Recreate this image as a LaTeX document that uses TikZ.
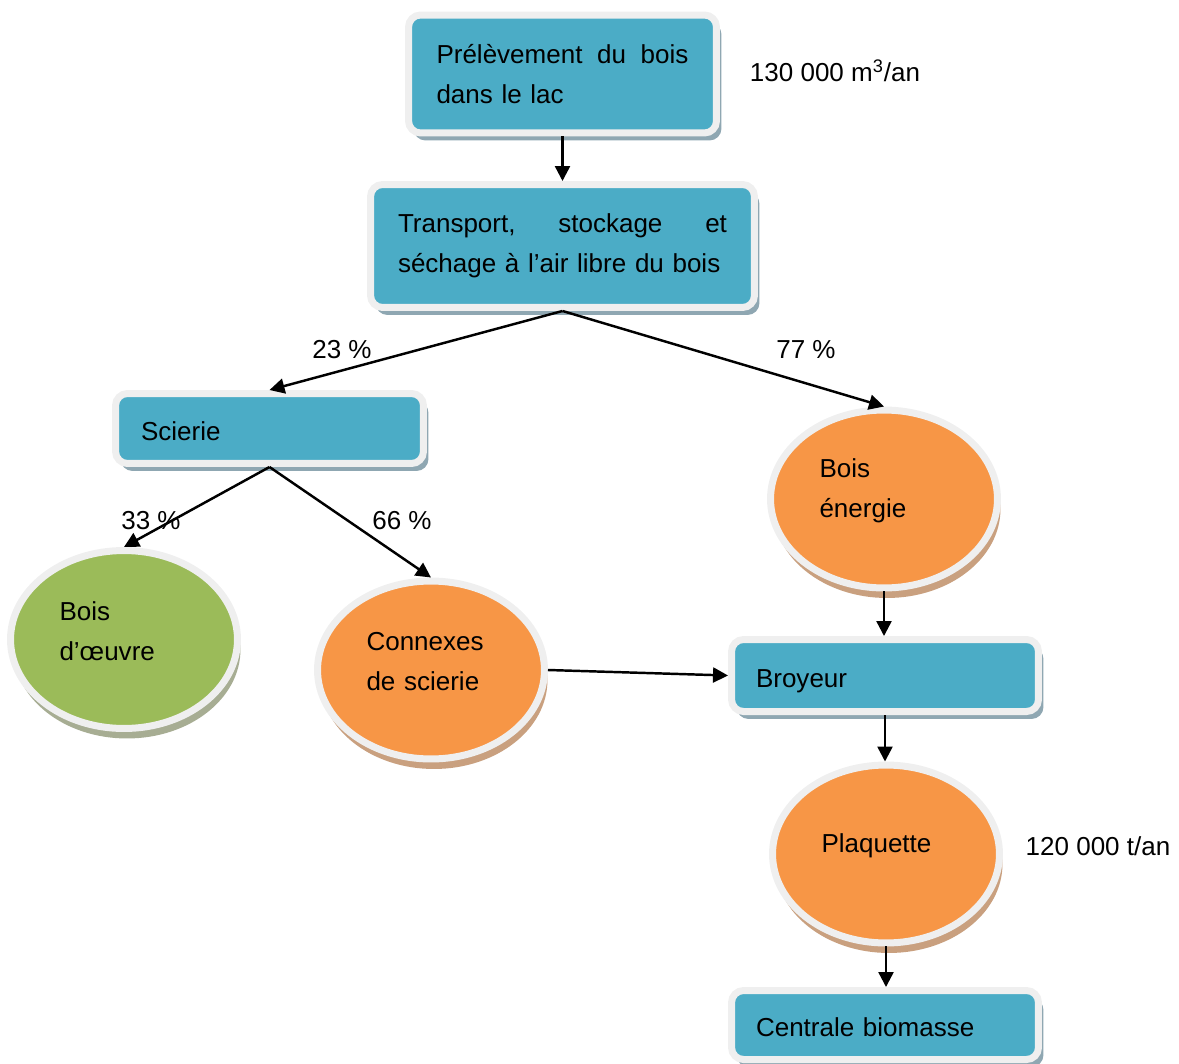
\documentclass[tikz,border=0pt]{standalone}
\usepackage{fontspec}
\setmainfont{Liberation Sans}
\usetikzlibrary{shapes.geometric,shadows,arrows.meta}
\definecolor{bleu}{HTML}{4BACC6}
\definecolor{orange}{HTML}{F79646}
\definecolor{vert}{HTML}{9BBB59}
\definecolor{cadre}{HTML}{EFEFEF}
\definecolor{ombrebleu}{HTML}{8FA7B2}
\definecolor{ombreorange}{HTML}{C9A07F}
\definecolor{ombrevert}{HTML}{A7AD93}

\begin{document}
\begin{tikzpicture}[x=0.02cm,y=-0.02cm,
  every node/.style={font=\fontsize{14.8}{22.8}\selectfont},
  boite/.style={rectangle,rounded corners=0.24cm,fill=bleu,draw=cadre,line width=0.14cm,
    inner sep=0pt,align=left,drop shadow={shadow xshift=0.1cm,shadow yshift=-0.15cm,fill=ombrebleu,opacity=1}},
  uneligne/.style={text height=0.57cm,text depth=0.11cm},
  bulle/.style={ellipse,draw=cadre,line width=0.14cm,inner sep=0pt,
    minimum width=4.54cm,minimum height=3.56cm},
  texte/.style={text width=2.58cm,align=left,yshift=0.16cm},
  fleche/.style={-{Triangle[length=0.3cm,width=0.3cm]},line width=1.4pt}]

\useasboundingbox (0,0) rectangle (1179,1064);

\node[boite,minimum width=6.16cm,minimum height=2.36cm,text width=5.04cm](prelev) at (562.5,74)
  {Prélèvement\hfill du\hfill bois\\dans le lac};
\node[boite,minimum width=7.68cm,minimum height=2.46cm,text width=6.58cm](transport) at (562.5,246)
  {Transport,\hfill stockage\hfill et\\séchage à l’air libre du bois};
\node[boite,uneligne,minimum width=6.16cm,minimum height=1.4cm,text width=5.14cm](scierie) at (269.5,428.5) {Scierie};
\node[boite,uneligne,minimum width=6.14cm,minimum height=1.44cm,text width=5.16cm](broyeur) at (885,675.5) {Broyeur};
\node[boite,uneligne,minimum width=6.14cm,minimum height=1.38cm,text width=5.16cm](centrale) at (885,1025) {Centrale biomasse};

\node[bulle,fill=orange,drop shadow={shadow xshift=0.06cm,shadow yshift=-0.2cm,fill=ombreorange,opacity=1},
  label={[texte]center:{Bois\\énergie}}](energie) at (884,499) {};
\node[bulle,fill=vert,drop shadow={shadow xshift=0.06cm,shadow yshift=-0.2cm,fill=ombrevert,opacity=1},
  label={[texte]center:{Bois\\d’œuvre}}](oeuvre) at (124,639.5) {};
\node[bulle,fill=orange,drop shadow={shadow xshift=0.06cm,shadow yshift=-0.2cm,fill=ombreorange,opacity=1},
  label={[texte]center:{Connexes\\de scierie}}](connexes) at (431,670) {};
\node[bulle,fill=orange,drop shadow={shadow xshift=0.06cm,shadow yshift=-0.2cm,fill=ombreorange,opacity=1},
  label={[texte]center:{Plaquette}}](plaquette) at (886,854) {};

\node(volume) at (835,71) {130 000 m\textsuperscript{3}/an};
\node(tonnage) at (1098,846) {120 000 t/an};
\node(p23) at (342,350) {23 \%};
\node(p77) at (806,350) {77 \%};
\node(p33) at (151,521) {33 \%};
\node(p66) at (402,521) {66 \%};

\draw[fleche](prelev.south)--(transport.north);
\draw[fleche](transport.south)--(scierie.north);
\draw[fleche](transport.south)--(energie.north);
\draw[fleche](scierie.south)--(oeuvre.north);
\draw[fleche](scierie.south)--(connexes.north);
\draw[fleche](connexes.east)--(broyeur.west);
\draw[fleche](energie.south)--(energie.south|-broyeur.north);
\draw[fleche](broyeur.south)--(broyeur.south|-plaquette.north);
\draw[fleche](plaquette.south)--(plaquette.south|-centrale.north);

\end{tikzpicture}
\end{document}
